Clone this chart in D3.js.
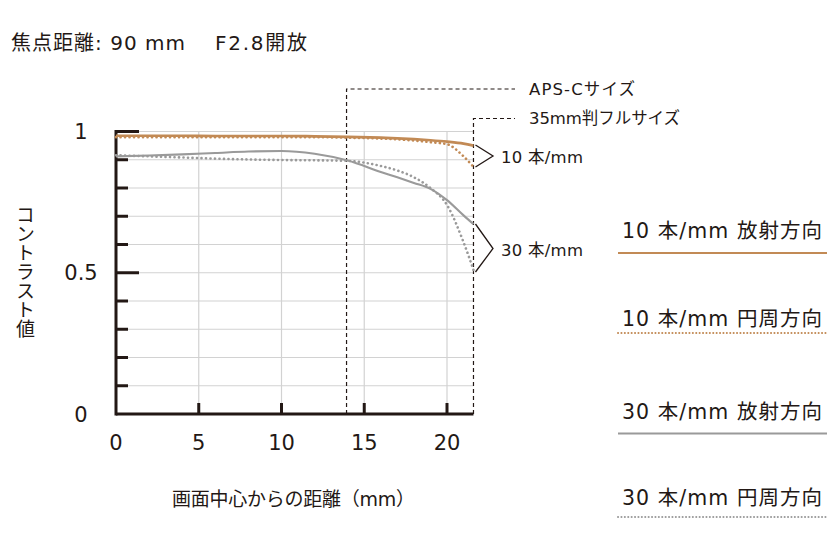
<!DOCTYPE html>
<html><head><meta charset="utf-8">
<script src="https://cdn.jsdelivr.net/npm/d3@7"></script>
<style>
html,body{margin:0;padding:0;background:#fff;}
svg text{font-family:"DejaVu Sans","Noto Sans CJK JP",sans-serif;fill:#231815;}
</style></head>
<body>
<svg id="c" width="836" height="557"></svg>
<script>
// ---- data ----
const titleLeft = "焦点距離: 90 mm";
const titleRight = "F2.8開放";
const xTicks = [0, 5, 10, 15, 20];
const yTickLabels = [{v:0,t:"0"},{v:0.5,t:"0.5"},{v:1,t:"1"}];
const positions = [0, 2, 4, 6, 8, 10, 12, 14, 16, 17, 18, 19, 20, 21, 21.6];
const radial10 = [0.985,0.985,0.985,0.984,0.984,0.984,0.983,0.981,0.978,0.976,0.973,0.969,0.964,0.957,0.950];
const tangential10 = [0.980,0.980,0.980,0.980,0.980,0.980,0.980,0.978,0.975,0.972,0.968,0.962,0.955,0.912,0.875];
const radial30 = [0.912,0.915,0.919,0.924,0.929,0.931,0.921,0.897,0.857,0.838,0.818,0.797,0.757,0.703,0.672];
const tangential30 = [0.916,0.912,0.908,0.904,0.901,0.899,0.898,0.896,0.878,0.862,0.838,0.800,0.740,0.608,0.510];
const apsC = 13.93, fullFrame = 21.6;
const seriesNames = ["10 本/mm 放射方向","10 本/mm 円周方向","30 本/mm 放射方向","30 本/mm 円周方向"];

const ORANGE = "#c28a55", GRAY = "#9a9a9a", INK = "#231815";
const svg = d3.select("#c");
const x = d3.scaleLinear().domain([0, 20]).range([116, 447]);
const y = d3.scaleLinear().domain([0, 1]).range([414, 131.5]);
const xEnd = x(fullFrame);

// title
svg.append("text").attr("x", 11).attr("y", 50).attr("font-size", 20).attr("textLength", 174)
  .attr("lengthAdjust", "spacing").text(titleLeft);
svg.append("text").attr("x", 215).attr("y", 50).attr("font-size", 20).attr("textLength", 92)
  .attr("lengthAdjust", "spacing").text(titleRight);

// grid
const g = svg.append("g");
g.selectAll(".hg").data(d3.range(1, 11).map(i => i / 10)).join("line")
  .attr("x1", x(0)).attr("x2", xEnd).attr("y1", d => y(d)).attr("y2", d => y(d))
  .attr("stroke", "#d2d2d2").attr("stroke-width", 1.2);
g.selectAll(".vg").data(xTicks.slice(1)).join("line")
  .attr("x1", d => x(d)).attr("x2", d => x(d)).attr("y1", y(1)).attr("y2", y(0))
  .attr("stroke", "#d2d2d2").attr("stroke-width", 1.2);

// axes
g.append("line").attr("x1", x(0)).attr("x2", x(0)).attr("y1", y(1) - 1.5).attr("y2", y(0) + 1.5)
  .attr("stroke", INK).attr("stroke-width", 3);
g.append("line").attr("x1", x(0)).attr("x2", xEnd).attr("y1", y(0)).attr("y2", y(0))
  .attr("stroke", INK).attr("stroke-width", 3);
g.selectAll(".yt").data(d3.range(1, 11).map(i => i / 10)).join("line")
  .attr("x1", x(0)).attr("x2", d => (Math.abs(d - 0.5) < 1e-6 || d === 1) ? x(0) + 23 : x(0) + 12)
  .attr("y1", d => y(d)).attr("y2", d => y(d))
  .attr("stroke", INK).attr("stroke-width", 3);
g.selectAll(".xt").data(xTicks.slice(1)).join("line")
  .attr("x1", d => x(d)).attr("x2", d => x(d)).attr("y1", y(0)).attr("y2", y(0) - 11)
  .attr("stroke", INK).attr("stroke-width", 3);

// tick labels
svg.selectAll(".yl").data(yTickLabels).join("text")
  .attr("x", 81).attr("y", d => y(d.v)).attr("dy", "0.36em").attr("text-anchor", "middle")
  .attr("font-size", 21).text(d => d.t);
svg.selectAll(".xl").data(xTicks).join("text")
  .attr("x", d => x(d)).attr("y", 450).attr("text-anchor", "middle")
  .attr("font-size", 21).text(d => d);

// axis titles
svg.append("text").attr("x", 172).attr("y", 506).attr("font-size", 19)
  .attr("textLength", 243).attr("lengthAdjust", "spacing").text("画面中心からの距離（mm）");
svg.append("text").attr("x", 24).attr("y", 205).attr("font-size", 19)
  .style("writing-mode", "vertical-rl").style("text-orientation", "upright")
  .attr("font-family", "Noto Sans CJK JP").text("コントラスト値");

// size markers
const dash = "4,3";
g.append("path").attr("d", `M${x(apsC)},${y(0)}V89H515`).attr("fill", "none")
  .attr("stroke", INK).attr("stroke-width", 1.2).attr("stroke-dasharray", dash);
g.append("path").attr("d", `M${xEnd},${y(0)}V118.5H515`).attr("fill", "none")
  .attr("stroke", INK).attr("stroke-width", 1.2).attr("stroke-dasharray", dash);
svg.append("text").attr("x", 529).attr("y", 89).attr("dy", "0.36em").attr("font-size", 16.5)
  .attr("textLength", 106).attr("lengthAdjust", "spacing").text("APS-Cサイズ");
svg.append("text").attr("x", 529).attr("y", 118).attr("dy", "0.36em").attr("font-size", 16.5)
  .attr("textLength", 151).attr("lengthAdjust", "spacing").text("35mm判フルサイズ");

// lines
const line = d3.line().x((d, i) => x(positions[i])).y(d => y(d)).curve(d3.curveMonotoneX);
const lg = svg.append("g").attr("fill", "none");
lg.append("path").attr("d", line(tangential30)).attr("stroke", GRAY).attr("stroke-width", 2.6)
  .attr("stroke-dasharray", "0.1,4.4").attr("stroke-linecap", "round");
lg.append("path").attr("d", line(radial30)).attr("stroke", GRAY).attr("stroke-width", 2.1);
lg.append("path").attr("d", line(tangential10)).attr("stroke", ORANGE).attr("stroke-width", 2.6)
  .attr("stroke-dasharray", "0.1,4.4").attr("stroke-linecap", "round");
lg.append("path").attr("d", line(radial10)).attr("stroke", ORANGE).attr("stroke-width", 2.7);

// brackets
const br = svg.append("g").attr("fill", "none").attr("stroke", INK).attr("stroke-width", 1.3);
br.append("path").attr("d", `M${xEnd + 2},145L493,156L${xEnd + 2},167`);
br.append("path").attr("d", `M${xEnd + 2},224L493,248.5L${xEnd + 2},272`);
svg.append("text").attr("x", 501).attr("y", 157).attr("dy", "0.36em").attr("font-size", 16.5)
  .attr("textLength", 82).attr("lengthAdjust", "spacing").text("10 本/mm");
svg.append("text").attr("x", 501).attr("y", 250).attr("dy", "0.36em").attr("font-size", 16.5)
  .attr("textLength", 82).attr("lengthAdjust", "spacing").text("30 本/mm");

// legend
const legendY = [231, 319, 412, 498];
const legendLineY = [253, 333, 433.5, 517];
const legendStyle = [
  {c: ORANGE, d: null, w: 2.2},
  {c: ORANGE, d: "0.1,3.3", w: 2},
  {c: GRAY, d: null, w: 2.2},
  {c: GRAY, d: "0.1,3.3", w: 2}
];
seriesNames.forEach((name, i) => {
  svg.append("text").attr("x", 622).attr("y", legendY[i]).attr("dy", "0.36em")
    .attr("font-size", 20.5).attr("textLength", 200).attr("lengthAdjust", "spacing").text(name);
  const l = svg.append("line").attr("x1", 618).attr("x2", 827)
    .attr("y1", legendLineY[i]).attr("y2", legendLineY[i])
    .attr("stroke", legendStyle[i].c).attr("stroke-width", legendStyle[i].w);
  if (legendStyle[i].d) l.attr("stroke-dasharray", legendStyle[i].d).attr("stroke-linecap", "round");
});
</script>
</body></html>
